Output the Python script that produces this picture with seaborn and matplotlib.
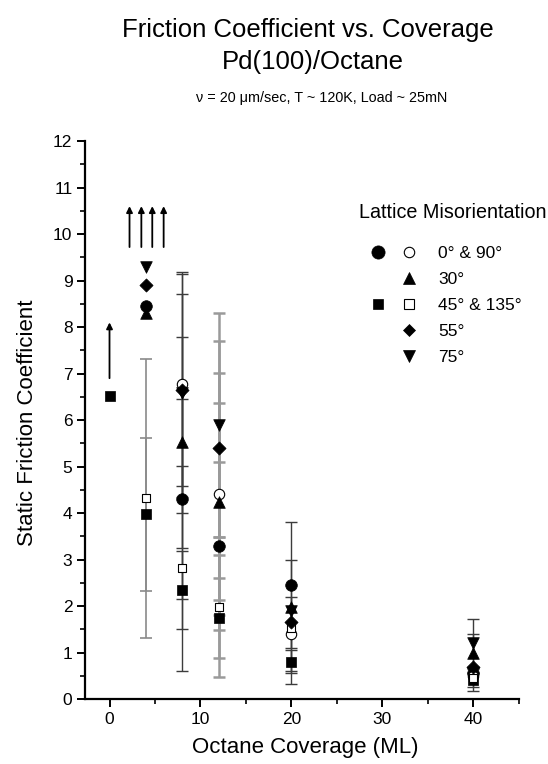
import numpy as np
import pandas as pd
import matplotlib
matplotlib.use("Agg")
import matplotlib.pyplot as plt
import seaborn as sns
from matplotlib.lines import Line2D
from matplotlib.legend_handler import HandlerTuple
from matplotlib.ticker import MultipleLocator

sns.set_theme(style="ticks")
plt.rcParams["font.family"] = ["Liberation Sans", "DejaVu Sans"]
plt.rcParams["text.color"] = "black"

# data (NaN = no error bar)
cov_full = [4, 8, 12, 20, 40]

circ_y = [8.46, 4.30, 3.29, 2.45, 0.55]
circ_err = [np.nan, 2.15, 1.81, 1.36, np.nan]

ocirc_cov = [8, 12, 20, 40]
ocirc_y = [6.77, 4.41, 1.40, 0.50]
ocirc_err = [2.42, 2.60, 0.79, np.nan]

tri_y = [8.30, 5.52, 4.24, 1.98, 0.98]
tri_err = [np.nan, 2.27, 2.12, np.nan, 0.41]

sq_cov = [0, 4, 8, 12, 20, 40]
sq_y = [6.52, 3.97, 2.35, 1.74, 0.80, 0.42]
sq_err = [np.nan, 1.65, 0.84, 0.86, 0.25, 0.24]

osq_y = [4.32, 2.81, 1.98, 1.52, 0.45]
osq_err = [3.00, 2.20, 1.50, np.nan, 0.20]

dia_y = [8.90, 6.65, 5.40, 1.65, 0.69]
dia_err = [np.nan, 2.07, 2.31, 1.33, np.nan]

dtri_y = [9.30, 6.58, 5.89, 1.90, 1.20]
dtri_err = [np.nan, 2.57, 2.41, np.nan, 0.52]

# lower-bound arrows
arrow_x = [0, 2.2, 3.5, 4.7, 5.95]
arrow_y0 = [6.9, 9.72, 9.72, 9.72, 9.72]
arrow_y1 = [8.1, 10.6, 10.6, 10.6, 10.6]

series = [
    ("0° & 90° filled", cov_full, circ_y, circ_err, "o", True),
    ("0° & 90° open", ocirc_cov, ocirc_y, ocirc_err, "o", False),
    ("30°", cov_full, tri_y, tri_err, "^", True),
    ("45° & 135° filled", sq_cov, sq_y, sq_err, "s", True),
    ("45° & 135° open", cov_full, osq_y, osq_err, "s", False),
    ("55°", cov_full, dia_y, dia_err, "D", True),
    ("75°", cov_full, dtri_y, dtri_err, "v", True),
]

rows = []
for name, xs, ys, es, m, filled in series:
    for x, y, e in zip(xs, ys, es):
        rows.append(dict(series=name, coverage=x, mu=y, err=e, marker=m, filled=filled))
df = pd.DataFrame(rows)

bar_style = {4: ("#8a8a8a", 1.2), 8: ("#3c3c3c", 1.0), 12: ("#9a9a9a", 1.8),
             20: ("#3c3c3c", 1.0), 40: ("#3c3c3c", 1.0)}

fig = plt.figure(figsize=(5.48, 7.64), dpi=100)
ax = fig.add_axes([0.155, 0.085, 0.792, 0.7304])

# error bars
eb = df.dropna(subset=["err"])
for cov, grp in eb.groupby("coverage"):
    c, lw = bar_style[cov]
    ax.errorbar(grp["coverage"], grp["mu"], yerr=grp["err"], fmt="none",
                ecolor=c, elinewidth=lw, capsize=4, capthick=lw, zorder=1)

# markers
sizes = {"o": 70, "^": 70, "s": 50, "D": 45, "v": 70}
for name, grp in df.groupby("series", sort=False):
    m = grp["marker"].iloc[0]
    filled = grp["filled"].iloc[0]
    sns.scatterplot(data=grp, x="coverage", y="mu", marker=m, ax=ax,
                    s=sizes[m] * (1 if filled else 0.8),
                    color="black" if filled else "white",
                    edgecolor="black", linewidth=0.5 if filled else 0.8,
                    zorder=3, legend=False)

for x, y0, y1 in zip(arrow_x, arrow_y0, arrow_y1):
    ax.annotate("", xy=(x, y1), xytext=(x, y0),
                arrowprops=dict(arrowstyle="-|>", color="black", lw=1.3,
                                mutation_scale=9, shrinkA=0, shrinkB=0))

ax.set_xlim(-2.7, 45)
ax.set_ylim(0, 12)
ax.xaxis.set_major_locator(MultipleLocator(10))
ax.xaxis.set_minor_locator(MultipleLocator(5))
ax.yaxis.set_major_locator(MultipleLocator(1))
ax.yaxis.set_minor_locator(MultipleLocator(0.5))
sns.despine(ax=ax)
for s in ["left", "bottom"]:
    ax.spines[s].set_linewidth(1.6)
    ax.spines[s].set_color("black")
ax.tick_params(which="major", direction="out", length=6, width=1.4,
               labelsize=12.5, colors="black", pad=3)
ax.tick_params(which="minor", direction="out", length=3.5, width=1.2, colors="black")
ax.set_xlabel("")
ax.set_ylabel("")

fig.text(28 / 548, 1 - 423 / 764, "Static Friction Coefficient",
         rotation=90, ha="center", va="center", fontsize=16, color="black")
fig.text(305 / 548, 1 - 748 / 764, "Octane Coverage (ML)", ha="center", va="center",
         fontsize=16, color="black")

fig.text(308 / 548, 1 - 30 / 764, "Friction Coefficient vs. Coverage",
         ha="center", va="center", fontsize=18.5, color="black")
fig.text(313 / 548, 1 - 62 / 764, "Pd(100)/Octane", ha="center", va="center",
         fontsize=18.5, color="black")
fig.text(322 / 548, 1 - 98 / 764, "ν = 20 μm/sec, T ~ 120K, Load ~ 25mN",
         ha="center", va="center", fontsize=10.4, color="black")

# legend
fig.text(359 / 548, 1 - 213 / 764, "Lattice Misorientation", ha="left", va="center",
         fontsize=14.2, color="black")


def mk(m, filled, ms):
    return Line2D([], [], ls="none", marker=m, color="black", ms=ms,
                  mfc="black" if filled else "white", mec="black",
                  mew=0.5 if filled else 0.8)


blank = Line2D([], [], ls="none", marker="o", alpha=0)
handles = [
    (mk("o", True, 9.5), mk("o", False, 7.5)),
    (blank, mk("^", True, 8.5)),
    (mk("s", True, 7), mk("s", False, 6.5)),
    (blank, mk("D", True, 6.5)),
    (blank, mk("v", True, 8.5)),
]
labels = ["0° & 90°", "30°", "45° & 135°", "55°", "75°"]
leg = fig.legend(handles, labels, handler_map={tuple: HandlerTuple(ndivide=None, pad=0)},
                 loc="upper left",
                 bbox_to_anchor=(362 / 548, 1 - 246 / 764), frameon=False,
                 fontsize=12.5, handlelength=3.6, labelcolor="black",
                 handletextpad=0.8, labelspacing=0.62, borderpad=0, borderaxespad=0)

fig.savefig("out.png", dpi=100)
